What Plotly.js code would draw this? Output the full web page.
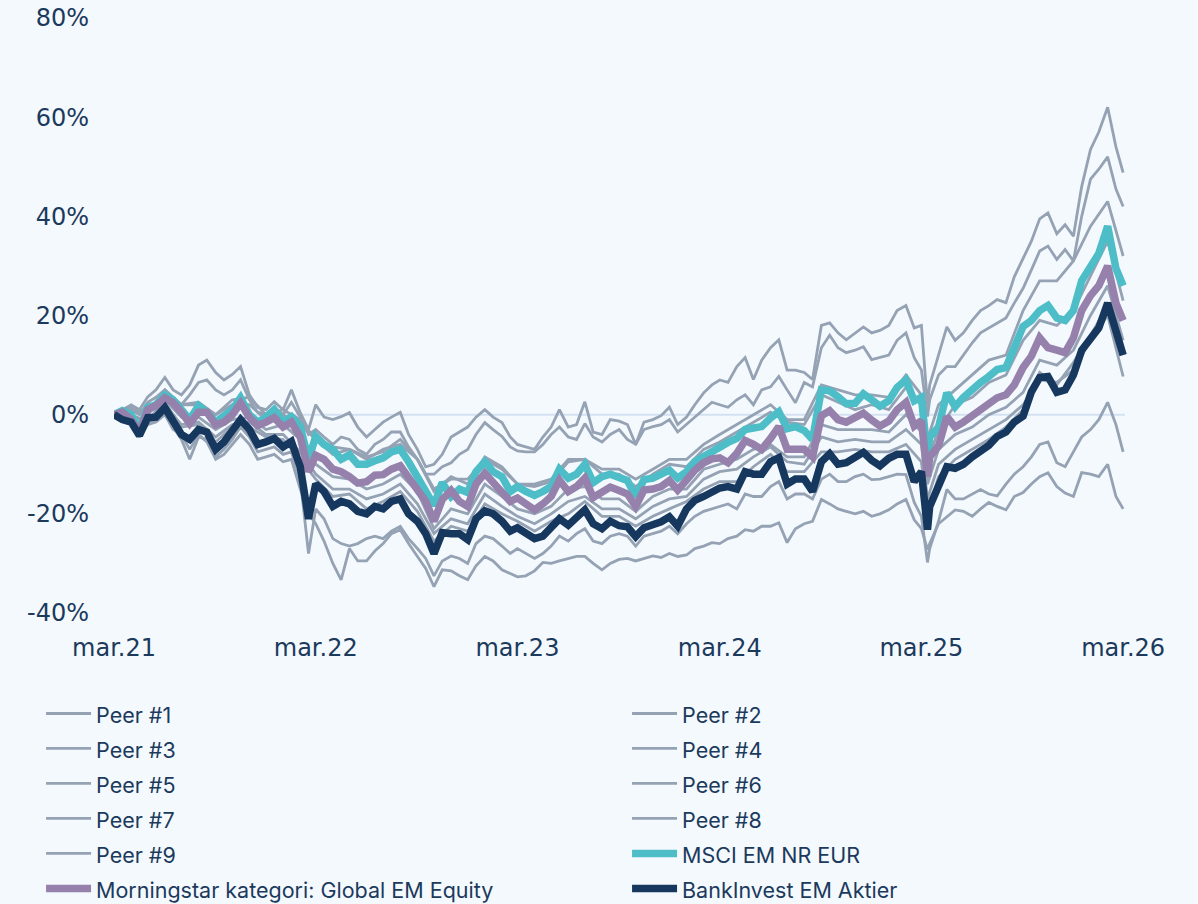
<!DOCTYPE html>
<html>
<head>
<meta charset="utf-8">
<script src="https://cdn.plot.ly/plotly-3.0.1.min.js"></script>
<style>html,body{margin:0;padding:0;background:#f4f9fe;}#chart{width:1198px;height:904px;}</style>
</head>
<body>
<div id="chart"></div>
<script>
// monthly dates (peers 3, 4, 5, 8, 9)
const dates = ['2021-03-01','2021-04-01','2021-05-01','2021-06-01','2021-07-01','2021-08-01','2021-09-01','2021-10-01','2021-11-01','2021-12-01',
'2022-01-01','2022-02-01','2022-03-01','2022-04-01','2022-05-01','2022-06-01','2022-07-01','2022-08-01','2022-09-01','2022-10-01',
'2022-11-01','2022-12-01','2023-01-01','2023-02-01','2023-03-01','2023-04-01','2023-05-01','2023-06-01','2023-07-01','2023-08-01',
'2023-09-01','2023-10-01','2023-11-01','2023-12-01','2024-01-01','2024-02-01','2024-03-01','2024-04-01','2024-05-01','2024-06-01',
'2024-07-01','2024-08-01','2024-09-01','2024-10-01','2024-11-01','2024-12-01','2025-01-01','2025-02-01','2025-03-01','2025-03-12',
'2025-04-01','2025-05-01','2025-06-01','2025-07-01','2025-08-01','2025-09-01','2025-10-01','2025-11-01','2025-12-01','2026-01-01','2026-02-01','2026-03-01'];

// semi-monthly dates (fund, index, category, peers 1, 2, 6, 7)
const fineDates = [
'2021-03-01','2021-03-16','2021-04-01','2021-04-16','2021-05-01','2021-05-16','2021-06-01','2021-06-16','2021-07-01','2021-07-16',
'2021-08-01','2021-08-16','2021-09-01','2021-09-16','2021-10-01','2021-10-16','2021-11-01','2021-11-16','2021-12-01','2021-12-16',
'2022-01-01','2022-01-16','2022-02-01','2022-02-16','2022-03-01','2022-03-16','2022-04-01','2022-04-16','2022-05-01','2022-05-16',
'2022-06-01','2022-06-16','2022-07-01','2022-07-16','2022-08-01','2022-08-16','2022-09-01','2022-09-16','2022-10-01','2022-10-16',
'2022-11-01','2022-11-16','2022-12-01','2022-12-16','2023-01-01','2023-01-16','2023-02-01','2023-02-16','2023-03-01','2023-03-16',
'2023-04-01','2023-04-16','2023-05-01','2023-05-16','2023-06-01','2023-06-16','2023-07-01','2023-07-16','2023-08-01','2023-08-16',
'2023-09-01','2023-09-16','2023-10-01','2023-10-16','2023-11-01','2023-11-16','2023-12-01','2023-12-16','2024-01-01','2024-01-16',
'2024-02-01','2024-02-16','2024-03-01','2024-03-16','2024-04-01','2024-04-16','2024-05-01','2024-05-16','2024-06-01','2024-06-16',
'2024-07-01','2024-07-16','2024-08-01','2024-08-16','2024-09-01','2024-09-16','2024-10-01','2024-10-16','2024-11-01','2024-11-16',
'2024-12-01','2024-12-16','2025-01-01','2025-01-16','2025-02-01','2025-02-16','2025-03-01','2025-03-12',
'2025-03-16','2025-04-01','2025-04-16','2025-05-01','2025-05-16','2025-06-01','2025-06-16','2025-07-01','2025-07-16','2025-08-01',
'2025-08-16','2025-09-01','2025-09-16','2025-10-01','2025-10-16','2025-11-01','2025-11-16','2025-12-01','2025-12-16','2026-01-01',
'2026-01-16','2026-02-01','2026-02-16','2026-03-01'];

const peer1 = [0,1,2,1,3.6,5,7.5,5,4,6, 10,11,8.5,7,8.1,9.7,4,1.5,1,2.6,
 1,5,0.4,-3,2,-0.5,-1,-0.4,0.4,-2.5, -4.5,-3,-1.5,-0.5,0.5,-4,-7,-10.5,-10,-8,
 -4.5,-3.5,-2.5,-0.5,1,-0.5,-1.6,-4.5,-6,-6.5, -7,-4.5,-2.5,1,-2.5,-2,2.6,-3.5,-4,-1,
 -1.3,-2,-6,-1.5,-1,-0.2,1.5,-2,-0.5,2, 4.4,6,7,6.5,9.7,11.5,7.1,11,13.5,15.1,
 9,9,8.5,7.1,18,18.5,16.5,15.1,16.5,17.7, 16.5,17,18,21,22,17.5,18, 2,
 6,12,17.7,15,16.5,19,21,22,23.2,22.6, 27.8,31.5,35,39.5,40.7,36.5,38.3,36,46,53.5, 57,62,54,48.8];
const peer2 = [0,0.5,1,0,2.5,3.5,5,3.5,2,4, 6.5,7,5,4,5,7,3,0.5,0,1.5,
 0,2.5,-0.5,-4,-3,-4.5,-6,-4.5,-5,-7, -8,-6,-5,-3.5,-3.5,-6.5,-9,-12,-12,-10.5,
 -9.7,-8,-7,-4,-1.6,-3,-4.4,-6.5,-7.3,-7.5, -7.5,-6,-4,-2.5,-4.5,-5,-1.8,-4.5,-5.5,-4,
 -3,-5,-6,-3,-2.4,-2,-1,-3.5,-2,-0.4, 1,2.5,2,1.5,3,4,2,5,5.6,7.7,
 5,2.4,6.5,5.6,13.5,16,13.5,12.5,13,13.7, 11.1,11.5,12,15,16.5,11.5,9, -0.4,
 3,8,9.7,9.7,12,14.5,16.5,17.5,18.5,19.5, 22.5,25.5,29.2,33,34,31.3,33.3,31,40,47.5, 49.5,52,45.5,42];
const peer3 = [0,1,0,4,2,2,0,2,2,-1, 0,-2,-5,-8,-7,-9,-7,-6,-9,-15, -13,-13,-9,-11,-14,-14,-13,-9,-9,-11, -11,-13,-11,-9,-9,-6,-4,-2,0,2, -1,-1,6,5,4,4,3.5,8,4, -5, 2,5,8,11,12,21,27,27,31,38,43,32];
const peer4 = [0,-0.5,-1,2,-2,-1.5,-4.5,-2,-1.5,-4, -4,-7.5,-12,-15,-15,-17,-16,-14,-18,-24, -21,-22,-16,-18.5,-20.5,-22,-20,-17.5,-16.5,-19, -19,-21,-18.5,-17,-16.5,-13,-11.5,-11,-8.5,-6.5, -9.5,-10,-4.5,-5.5,-5,-5.5,-5.5,-3,-6, -17, -10,-7,-5,-3,-1,2,7,6.5,9,15,20,7.7];
const peer5 = [0,0,-1.5,3,-0.5,-0.5,-3,-1,-0.5,-3, -2,-5,-10,-12.5,-13,-15,-14,-12,-15.5,-23, -19,-20,-14,-16.5,-19,-20,-18.5,-15,-14.5,-17, -17,-19.5,-16.5,-15,-15,-11,-10,-9,-7,-6, -8.5,-8.5,-2,-3,-3,-3,-3.5,0,-3.5, -14, -7,-4,-2.5,0,1.5,4.5,11,10,13,20,26,15];
const peer6 = [0,-1,-1.5,-4.5,-1.5,-1,0.5,-2.5,-5,-9, -4.5,-5,-8.5,-7,-5,-2.5,-4.5,-7.5,-7,-6.5,
 -8,-7.5,-13,-28,-19,-21,-25,-26,-26.5,-26, -25,-24.5,-25,-23.5,-22.5,-25,-27,-29,-32.5,-29.5,
 -28.5,-29,-30,-26,-24.5,-25,-26.5,-28,-27,-28, -29,-28,-26.5,-24.5,-25.5,-24,-23,-25.5,-26,-24.5,
 -24,-24.5,-26.5,-24.5,-24,-23.5,-22.5,-24,-22,-20.5, -19.5,-19,-18.5,-18,-19,-16,-16.5,-16.5,-14.5,-13.5,
 -17,-16,-16,-17,-13,-12,-13.5,-13.5,-12.5,-12, -13.1,-13,-12.5,-12,-12.1,-17.7,-20.5, -29.8,
 -27,-21.5,-15.1,-17,-17,-16,-15.1,-16,-16.4,-14, -12,-10.5,-8.5,-6,-5.5,-9.7,-10.5,-7.5,-4.5,-3, -1,2.5,-2,-7.5];
const peer7 = [0,-1,-2,-4,-2,-1.5,0,-3,-4,-7, -4,-5.5,-9,-8,-6,-4,-6,-9,-8.5,-8,
 -9.5,-9,-15,-20,-22,-25.5,-30,-33.3,-27,-29.5, -29.5,-27.5,-26,-24,-23.2,-26,-28.6,-31,-34.7,-31.3,
 -31.5,-32.5,-33.3,-30.5,-28.6,-29.5,-31.3,-32,-32.7,-32.5, -31.5,-29.8,-30,-29.5,-29,-28.6,-28.6,-30,-31.3,-30,
 -29.2,-29,-29.5,-29,-28.5,-28.8,-28,-28.6,-28.3,-27, -26.5,-25.8,-26,-25,-24.5,-23.2,-23.5,-22.5,-22.5,-21.8,
 -25.8,-23,-22,-21.5,-17.1,-18,-19,-19.5,-20,-19.5, -20.5,-20,-19.2,-18,-17.1,-21.2,-23, -27.2,
 -26,-22,-20.5,-19.2,-19.5,-20.5,-19,-17.7,-18.5,-19.2, -16.5,-15.7,-14,-12.5,-11.7,-14.5,-15.8,-16.5,-11.7,-12, -12.5,-10,-16.5,-19];
const peer8 = [0,-0.5,-1,2.5,-2.5,-2,-5.5,-2.5,-2.5,-4.5, -5,-9,-13,-16.5,-16,-19,-17.5,-15.5,-19.5,-25.5, -22.5,-23.5,-18,-20,-21.5,-23.5,-21.5,-20,-17.5,-20.5, -20.5,-22.5,-20.5,-19,-17.5,-15,-13.5,-13.5,-10.5,-8, -11.5,-11.5,-7.5,-7.5,-7,-7.5,-7.5,-6,-9.5, -20, -12.5,-9,-7,-5,-2.5,1,8.5,6,10.5,16,22,13];
const peer9 = [0,1.5,0.5,5,2,2.5,0,3,3.5,0, 1,-1,-5,-6.5,-7,-8.5,-7.5,-5,-9,-15.5, -12.5,-14,-8.5,-10.5,-14,-14.5,-13.5,-9.5,-9,-12, -12,-14.5,-12,-10,-10.5,-7,-5.5,-3.5,-1.5,0.5, -1.5,-2,4,2.5,1,2,1,5.5,2, -9.5, -3,2,3.5,6.5,8,15,19,18,21,28,35,23];

const msci = [0,0.8,0,-3,1.5,2,4,3,1,-1, 1.8,0.5,-1.5,0,1,3.4,0,-1.5,-0.5,1,
 -1.5,-0.4,-2.4,-9.1,-4.4,-6,-7,-9,-8.1,-10, -10,-9.3,-8.7,-7.5,-7,-9.5,-12.5,-15,-18.3,-13.7,
 -16.5,-15,-15.7,-11.5,-9.5,-11.5,-12.5,-15.5,-14.5,-15.5, -16.3,-15.5,-14.5,-11,-12.8,-12,-10,-13.7,-12.5,-12,
 -12.8,-13.3,-16.5,-13.1,-12.8,-12.2,-11.2,-12.8,-11.5,-9.5, -8.4,-7.5,-6.6,-5.6,-4.8,-3,-2.7,-2.4,-0.7,0.6,
 -2.8,-2.4,-3.2,-5,5,4.8,3.6,2.2,2.3,4.2, 3,1.7,2.8,5.5,7,2.8,3.5, -8.5,
 -4.5,-2.5,4.4,1.6,3.5,5.2,6.5,7.7,9.1,9.5, 13.7,17.8,19,21,22,19.5,19,21,27,30, 32.5,38,29.5,26];
const category = [0,0.5,-1,-3.5,1,1.8,3.4,2.4,0.5,-1.8, 0.5,0.5,-2,-1.5,0,2.3,-0.5,-2.2,-1.5,-0.6,
 -2.5,-1.5,-4.5,-11.5,-8.2,-9,-11,-11.5,-12.5,-13.8, -13.5,-12.2,-12.1,-11,-10.3,-12.7,-15,-17.5,-21.5,-17.1,
 -15.3,-17.5,-18.5,-14,-11.8,-13.8,-16,-17.5,-16.8,-18, -19.2,-18,-16.5,-13.2,-15.5,-14.5,-12.8,-16.7,-15.5,-14.6,
 -15.3,-16,-18.5,-15.2,-15,-14.5,-13.3,-15.2,-13.2,-11.2, -9.7,-8.9,-8.7,-9.7,-7.8,-5.2,-6,-7,-4.8,-2.4,
 -7,-7,-7,-8.5,-0.2,0.8,-1,-1.5,-0.7,0.3, -1.1,-2.3,-1.3,1,2.5,-2.3,-1.2, -12.5,
 -8.5,-6.3,-0.4,-2.5,-1.5,-0.3,1.2,2.2,3.4,4, 6,9.5,11.8,15.5,13.5,13,12.5,15.5,21,24, 26,30,22.5,19];
const fund = [0,-1,-1.5,-4.2,-0.6,-0.5,1.4,-1.5,-4,-5, -3,-3.5,-7,-5.5,-3.5,-1,-3,-6,-5.5,-4.8,
 -6.5,-5.4,-10.5,-21,-14,-15.5,-18.5,-17.5,-18,-19.5, -20,-18.5,-19,-17.5,-17,-20,-21.5,-24,-28,-23.8,
 -24,-24,-25.2,-21,-19.4,-20,-21.5,-23.5,-22.8,-24, -25,-24.5,-23,-21,-22.3,-20.5,-19.2,-22,-23,-21.5,
 -22.4,-22.6,-24.6,-22.8,-22.2,-21.6,-20.6,-22.5,-19,-17.3, -16.5,-15.5,-14.8,-14.5,-15,-11.5,-12,-12,-9.5,-8.7,
 -14,-13,-13,-15.5,-9.5,-7.9,-10,-9.7,-8.6,-7.6, -9.2,-10.3,-8.8,-8,-8,-13.5,-11.5, -23.2,
 -18.5,-14,-10.5,-10.8,-10,-8.5,-7.4,-6.2,-4.4,-3.5, -1.5,-0.3,4.6,7.5,7.7,4.5,5,8,13,15.3, 17.5,22.5,16.5,12];

const peerNames = ['Peer #1','Peer #2','Peer #3','Peer #4','Peer #5','Peer #6','Peer #7','Peer #8','Peer #9'];
const peerSeries = [peer1,peer2,peer3,peer4,peer5,peer6,peer7,peer8,peer9];
const peerDates = [fineDates,fineDates,dates,dates,dates,fineDates,fineDates,dates,dates];
const seriesNames = ['MSCI EM NR EUR','Morningstar kategori: Global EM Equity','BankInvest EM Aktier'];

const xTickVals = ['2021-03-01','2022-03-01','2023-03-01','2024-03-01','2025-03-01','2026-03-01'];
const xTickText = ['mar.21','mar.22','mar.23','mar.24','mar.25','mar.26'];
const yTickVals = [-40,-20,0,20,40,60,80];
const yTickText = ['-40%','-20%','0%','20%','40%','60%','80%'];

const lab = s => '<span style="font-size:21.5px">' + s + '</span>';
const grey = '#94a2b4';
const traces = [];
peerSeries.forEach((s,i) => {
  traces.push({x: peerDates[i], y: s, name: lab(peerNames[i]), type: 'scatter', mode: 'lines',
    line: {color: grey, width: 2.8}});
});
traces.push({x: fineDates, y: msci, name: lab(seriesNames[0]), type:'scatter', mode:'lines', line:{color:'#4dbdc7', width:7.5}});
traces.push({x: fineDates, y: category, name: lab(seriesNames[1]), type:'scatter', mode:'lines', line:{color:'#9581ab', width:7.5}});
traces.push({x: fineDates, y: fund, name: lab(seriesNames[2]), type:'scatter', mode:'lines', line:{color:'#17385e', width:7.5}});

const tickFont = {family: '"DejaVu Sans", sans-serif', size: 24, color: '#1b3a5c'};
const layout = {
  width: 1198, height: 904,
  paper_bgcolor: '#f4f9fe', plot_bgcolor: '#f4f9fe',
  margin: {l: 114, r: 8, t: 18, b: 291, autoexpand: false},
  font: {family: 'Inter, "Noto Sans", sans-serif', color: '#1b3a5c', size: 22},
  showlegend: true,
  xaxis: {type: 'date', range: ['2021-03-01','2026-06-30'], tickvals: xTickVals, ticktext: xTickText,
    showgrid: false, zeroline: false, showline: false, ticks: '', ticklabelstandoff: 18, tickfont: tickFont},
  yaxis: {range: [-40, 80], tickvals: yTickVals, ticktext: yTickText, showgrid: false,
    zeroline: false, showline: false, ticks: '', ticklabelstandoff: 24, tickfont: tickFont},
  shapes: [{type: 'line', xref: 'x', yref: 'y', x0: dates[0], x1: '2026-03-04', y0: 0, y1: 0,
    line: {color: '#d3e1f0', width: 2}, layer: 'below'}],
  legend: {orientation: 'h', x: -0.0678, xanchor: 'left', y: -0.1311, yanchor: 'top',
    itemwidth: 45, entrywidth: 526, entrywidthmode: 'pixels',
    font: {size: 24.6, color: '#1b3a5c', family: 'Inter, "Noto Sans", sans-serif'},
    bgcolor: 'rgba(0,0,0,0)', traceorder: 'normal'}
};

Plotly.newPlot('chart', traces, layout, {displayModeBar: false, staticPlot: true});
</script>
</body>
</html>
